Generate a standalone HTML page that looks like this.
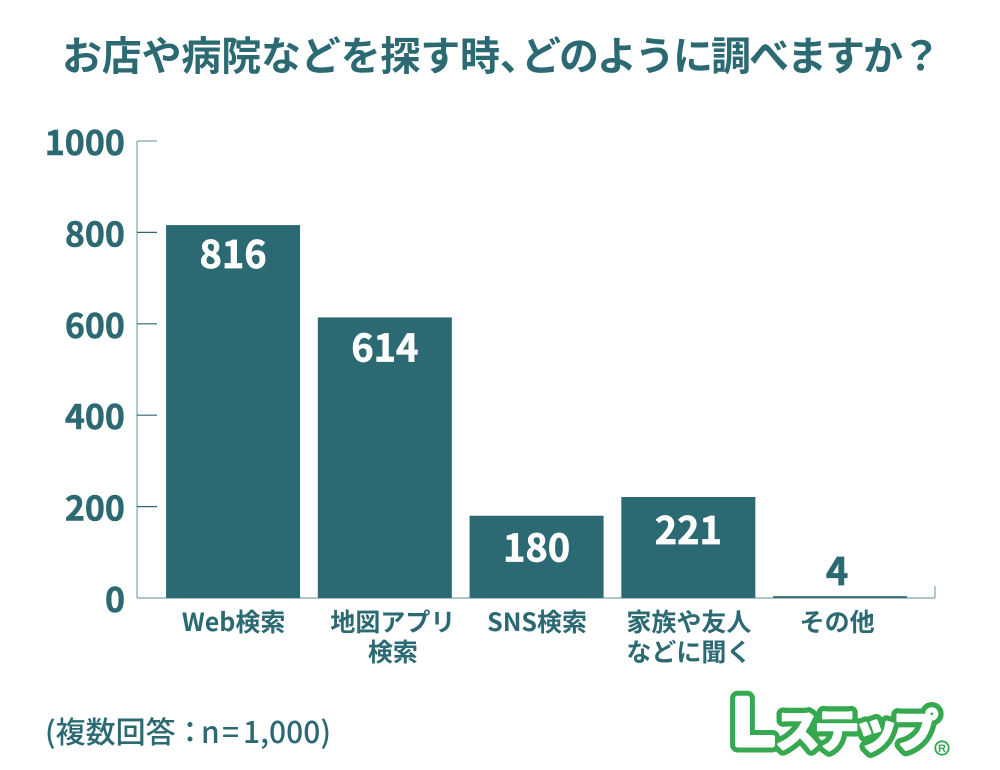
<!DOCTYPE html>
<html lang="ja">
<head>
<meta charset="utf-8">
<title>お店や病院などを探す時、どのように調べますか？</title>
<style>
html,body{margin:0;padding:0;background:#fff;width:1000px;height:770px;overflow:hidden}
svg{display:block}
text{font-family:"Liberation Sans","Noto Sans CJK JP",sans-serif;fill:#2b6973}
.cjk{font-family:"Noto Sans CJK JP","Liberation Sans",sans-serif}
</style>
</head>
<body>
<svg id="chart" xmlns="http://www.w3.org/2000/svg" width="1000" height="770" viewBox="0 0 1000 770">
  <text class="cjk" y="70" font-size="40" font-weight="700"><tspan x="62" letter-spacing="-0.2">お店や病院などを探す時、</tspan><tspan x="521" letter-spacing="-2">どのように調べますか？</tspan></text>
  <g id="plot"></g>
  <text class="cjk" y="743" font-size="30" font-weight="500"><tspan x="45">(複数回答</tspan><tspan x="175">：</tspan><tspan x="201">n</tspan><tspan x="222">=</tspan><tspan x="243">1,000)</tspan></text>
  <g>
    <text x="733" y="745" font-size="68" font-weight="700" style="fill:#35a850;stroke:#35a850;stroke-width:15;stroke-linejoin:round;font-family:'Liberation Sans',sans-serif">L</text>
    <text class="cjk" x="775" y="747" font-size="45" font-weight="700" textLength="163" style="fill:#35a850;stroke:#35a850;stroke-width:13;stroke-linejoin:round">ステップ</text>
    <text x="733" y="745" font-size="68" font-weight="700" style="fill:#fff;stroke:#fff;stroke-width:5;stroke-linejoin:round;font-family:'Liberation Sans',sans-serif">L</text>
    <text class="cjk" x="775" y="747" font-size="45" font-weight="700" textLength="163" style="fill:#fff;stroke:#fff;stroke-width:2.5;stroke-linejoin:round">ステップ</text>
    <circle cx="942" cy="748" r="6.7" fill="#fff" stroke="#35a850" stroke-width="1.8"></circle>
    <text x="942" y="752" font-size="11" font-weight="700" text-anchor="middle" style="fill:#35a850">R</text>
  </g>
</svg>
<script>
const categories = [["Web検索"], ["地図アプリ", "検索"], ["SNS検索"], ["家族や友人", "などに聞く"], ["その他"]];
const values = [816, 614, 180, 221, 4];
const yTicks = [0, 200, 400, 600, 800, 1000];

const NS = 'http://www.w3.org/2000/svg';
const plot = document.getElementById('plot');
const axisLeft = 137, axisRight = 935, axisTop = 141, axisBottom = 598;
const yMax = 1000;
const bandStart = 157.2, bandStep = 151.75, barWidth = 134;

function y(v) { return axisBottom - (v / yMax) * (axisBottom - axisTop); }
function xCenter(i) { return bandStart + bandStep * (i + 0.5); }
function labelCenter(i) {
  if (i === 1) return xCenter(i) + 8;
  if (i === 4) return xCenter(i) - 3;
  return xCenter(i) + 0.5;
}
function valueInset(i) {
  if (i === 2) return 46;
  if (i === 3) return 47;
  if (i === 1) return 44;
  return 43;
}

function make(tag, attrs, text) {
  const el = document.createElementNS(NS, tag);
  for (const k in attrs) el.setAttribute(k, attrs[k]);
  if (text !== undefined) el.textContent = text;
  plot.appendChild(el);
  return el;
}

const axisColor = '#7fa5ab';

const yAxis = make('line', {x1: axisLeft, x2: axisLeft, y1: axisTop, y2: axisBottom, stroke: axisColor, 'stroke-width': 1.2});



const xAxis = make('line', {x1: axisLeft, x2: axisRight, y1: axisBottom, y2: axisBottom, stroke: axisColor, 'stroke-width': 1.2});



const xEnd = make('line', {x1: axisRight, x2: axisRight, y1: 586, y2: axisBottom, stroke: axisColor, 'stroke-width': 1.2});



yTicks.forEach(function (t) {
  if (t > 0) {
    const tick = make('line', {x1: axisLeft, x2: axisLeft + 20, y1: y(t), y2: y(t), stroke: t === yMax ? axisColor : '#2b6973', 'stroke-width': 1.2});
    
    
  }
  const label = make('text', {x: 125, y: y(t) + 14, 'text-anchor': 'end', 'font-size': 34, 'font-weight': 700, class: 'cjk', style: 'stroke:#2b6973;stroke-width:0.5'}, String(t));
  
  
});

values.forEach(function (v, i) {
  const cx = xCenter(i);
  const top = y(v);
  const bar = make('rect', {x: cx - barWidth / 2, y: top, width: barWidth, height: axisBottom - top, fill: '#2b6973'});
  
  

  const small = v < 50;
  const val = make('text', {x: small ? labelCenter(i) : cx, y: small ? top - 11 : top + valueInset(i), 'text-anchor': 'middle', 'font-size': 38, 'font-weight': 700, class: 'cjk', style: small ? 'stroke:#2b6973;stroke-width:0.7' : 'fill:#fff;stroke:#fff;stroke-width:0.7'}, String(v));
  
  

  categories[i].forEach(function (line, j) {
    const cat = make('text', {x: labelCenter(i), y: 631 + j * 30, 'text-anchor': 'middle', 'font-size': 25, 'font-weight': 700, class: 'cjk'}, line);
    
    
  });
});
</script>
</body>
</html>
